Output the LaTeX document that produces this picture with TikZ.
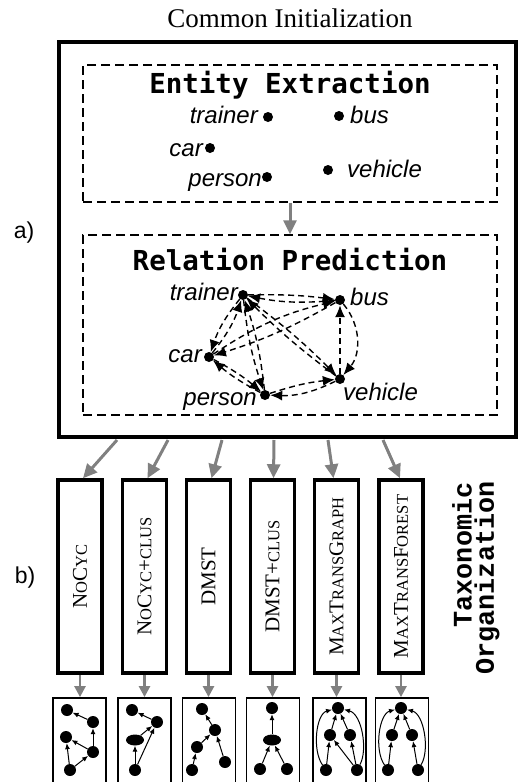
\documentclass[tikz,border=0pt]{standalone}
\usepackage{fontspec}
\setmainfont{Liberation Serif}
\newfontfamily\lsans{Liberation Sans}
\newfontfamily\dvmono{DejaVu Sans Mono}
\newfontfamily\lmono{Liberation Mono}
\usetikzlibrary{arrows.meta,shapes.geometric}
\definecolor{arrgray}{RGB}{128,128,128}
\newcommand\fsc[1]{{\fontsize{16.5pt}{16.5pt}\selectfont #1}}
\begin{document}
\begin{tikzpicture}[x=1pt,y=-1pt,
  outerbox/.style={draw, line width=4pt, minimum width=457pt, minimum height=395pt, inner sep=0},
  dbox/.style={draw, line width=1.4pt, dash pattern=on 9pt off 5pt, minimum width=414pt, inner sep=0},
  title/.style={font=\fontsize{27.5pt}{30pt}\dvmono\bfseries, anchor=base, inner sep=0},
  ent/.style={font=\fontsize{24pt}{26pt}\lsans\itshape, inner sep=0},
  dot/.style={circle, fill=black, inner sep=0, minimum size=10pt},
  dedge/.style={-{Latex[length=12pt,width=10pt]}, line width=1.4pt, dash pattern=on 6pt off 4pt},
  garrow/.style={-{Triangle[length=14pt,width=13pt]}, line width=3pt, draw=arrgray, fill=arrgray},
  sgarrow/.style={-{Triangle[length=11pt,width=11pt]}, line width=2.5pt, draw=arrgray, fill=arrgray},
  tallbox/.style={draw, line width=3.5pt, minimum width=44pt, minimum height=193pt, inner sep=0},
  smallbox/.style={draw, line width=1.8pt, minimum width=53pt, minimum height=102pt, inner sep=0},
  algo/.style={rotate=90, font=\fontsize{21pt}{21pt}\selectfont, inner sep=0},
  tn/.style={circle, fill=black, inner sep=0, minimum size=12pt},
  tel/.style={ellipse, fill=black, inner sep=0, minimum width=18pt, minimum height=11pt},
  tedge/.style={-{Latex[length=6pt,width=5pt]}, line width=1pt},
  side/.style={font=\fontsize{23pt}{25pt}\lsans, inner sep=0},
  taxo/.style={rotate=90, font=\fontsize{26.8pt}{28pt}\lmono\bfseries, inner sep=0}
]
\useasboundingbox (0,0) rectangle (519,782);
\clip (0,0) rectangle (519,782);

% header
\node[anchor=base, inner sep=0, font=\fontsize{27pt}{30pt}\selectfont] (hdr) at (290,27) {Common Initialization};

% outer box
\node[outerbox] (outer) at (287.5,239.5) {};
\node[side] (la) at (24,233) {a)};
\node[side] (lb) at (25,578) {b)};

% Entity Extraction
\node[dbox, minimum height=137pt] (ee) at (290,133.5) {};
\node[title] (eet) at (290,93) {Entity Extraction};
\node[dot] (e1) at (268,117) {};
\node[dot] (e2) at (339,116) {};
\node[dot] (e3) at (210,148) {};
\node[dot] (e4) at (267,177) {};
\node[dot] (e5) at (328,170) {};
\node[ent, anchor=base east] (e1l) at (258,123) {trainer};
\node[ent, anchor=base west] (e2l) at (350,123) {bus};
\node[ent, anchor=base east] (e3l) at (203,156) {car};
\node[ent, anchor=base east] (e4l) at (262,186) {person};
\node[ent, anchor=base west] (e5l) at (347,177) {vehicle};

% Relation Prediction
\node[dbox, minimum height=180pt] (rp) at (290,325) {};
\node[title] (rpt) at (290,270) {Relation Prediction};
\draw[garrow] (ee.south) -- (rp.north);

\node[dot] (T) at (243,295) {};
\node[dot] (B) at (340,300) {};
\node[dot] (C) at (209,357) {};
\node[dot] (P) at (265,395) {};
\node[dot] (V) at (340,379) {};
\node[ent, anchor=base east] (Tl) at (238,300) {trainer};
\node[ent, anchor=base west] (Bl) at (350,305) {bus};
\node[ent, anchor=base east] (Cl) at (202,362) {car};
\node[ent, anchor=base east] (Pl) at (257,405) {person};
\node[ent, anchor=base west] (Vl) at (343,400) {vehicle};

\draw[dedge] (T) to[bend left=4] (B);
\draw[dedge] (B) to[bend left=8] (T);
\draw[dedge] (T) to[bend right=10] (C);
\draw[dedge] (C) to[bend right=10] (T);
\draw[dedge] (T) to[bend right=6] (P);
\draw[dedge] (P) to[bend right=6] (T);
\draw[dedge] (T) to[bend left=4] (V);
\draw[dedge] (V) to[bend left=4] (T);
\draw[dedge] (B) to[bend left=6] (C);
\draw[dedge] (C) to[bend left=10] (B);
\draw[dedge] (C) to[bend left=6] (P);
\draw[dedge] (P) to[bend left=6] (C);
\draw[dedge] (P) to[bend left=6] (V);
\draw[dedge] (V) to[bend left=14] (P);
\draw[dedge] (V) -- (B);
\draw[dedge] (B) to[bend left=40] (V);

% tall boxes
\node[tallbox] (tb1) at (80,576.5) {};
\node[tallbox] (tb2) at (144.5,576.5) {};
\node[tallbox] (tb3) at (208.5,576.5) {};
\node[tallbox] (tb4) at (272.5,576.5) {};
\node[tallbox] (tb5) at (336.5,576.5) {};
\node[tallbox] (tb6) at (401,576.5) {};
\node[algo] (al1) at (tb1.center) {N\fsc{O}C\fsc{YC}};
\node[algo] (al2) at (tb2.center) {N\fsc{O}C\fsc{YC}+\fsc{CLUS}};
\node[algo] (al3) at (tb3.center) {DMST};
\node[algo] (al4) at (tb4.center) {DMST+\fsc{CLUS}};
\node[algo] (al5) at (tb5.center) {M\fsc{AX}T\fsc{RANS}G\fsc{RAPH}};
\node[algo] (al6) at (tb6.center) {M\fsc{AX}T\fsc{RANS}F\fsc{OREST}};

\coordinate (s1) at (117,440);
\coordinate (s2) at (168,440);
\coordinate (s3) at (222,440);
\coordinate (s4) at (274,440);
\coordinate (s5) at (328,440);
\coordinate (s6) at (383,440);
\draw[garrow] (s1) -- ([xshift=3pt]tb1.north);
\draw[garrow] (s2) -- ([xshift=3pt]tb2.north);
\draw[garrow] (s3) -- ([xshift=3pt]tb3.north);
\draw[garrow] (s4) -- ([xshift=1pt]tb4.north);
\draw[garrow] (s5) -- ([xshift=-3pt]tb5.north);
\draw[garrow] (s6) -- ([xshift=-1pt]tb6.north);

\node[taxo] (tx1) at (462,555) {Taxonomic};
\node[taxo] (tx2) at (487,578) {Organization};

% small boxes
\node[smallbox] (sb1) at (79.5,749) {};
\node[smallbox] (sb2) at (144.5,749) {};
\node[smallbox] (sb3) at (209,749) {};
\node[smallbox] (sb4) at (273,749) {};
\node[smallbox] (sb5) at (339.5,749) {};
\node[smallbox] (sb6) at (402,749) {};
\draw[sgarrow] (tb1.south) -- (tb1.south |- sb1.north);
\draw[sgarrow] (tb2.south) -- (tb2.south |- sb2.north);
\draw[sgarrow] (tb3.south) -- (tb3.south |- sb3.north);
\draw[sgarrow] (tb4.south) -- (tb4.south |- sb4.north);
\draw[sgarrow] (tb5.south) -- (tb5.south |- sb5.north);
\draw[sgarrow] (tb6.south) -- (tb6.south |- sb6.north);

% graph 1
\node[tn] (g1a) at (67,710) {};
\node[tn] (g1b) at (93,722) {};
\node[tn] (g1c) at (66,737) {};
\node[tn] (g1d) at (93,752) {};
\node[tn] (g1e) at (70,770) {};
\draw[tedge] (g1b) -- (g1a);
\draw[tedge] (g1d) -- (g1b);
\draw[tedge] (g1d) -- (g1c);
\draw[tedge] (g1e) -- (g1c);
\draw[tedge] (g1e) -- (g1d);

% graph 2
\node[tn] (g2a) at (132,710) {};
\node[tn] (g2b) at (157,722) {};
\node[tel] (g2c) at (135,740) {};
\node[tn] (g2e) at (135,770) {};
\draw[tedge] (g2b) -- (g2a);
\draw[tedge] (g2c) -- (g2b);
\draw[tedge] (g2e) -- (g2c);
\draw[tedge] (g2e) -- (g2b);

% graph 3
\node[tn] (g3a) at (202,709) {};
\node[tn] (g3b) at (215,730) {};
\node[tn] (g3c) at (197,747) {};
\node[tn] (g3d) at (225,762) {};
\node[tn] (g3e) at (192,770) {};
\draw[tedge] (g3b) -- (g3a);
\draw[tedge] (g3c) -- (g3b);
\draw[tedge] (g3e) -- (g3c);
\draw[tedge] (g3d) -- (g3b);

% graph 4
\node[tn] (g4a) at (272,708) {};
\node[tel] (g4b) at (272,740) {};
\node[tn] (g4c) at (260,769) {};
\node[tn] (g4d) at (287,769) {};
\draw[tedge] (g4b) -- (g4a);
\draw[tedge] (g4c) -- (g4b);
\draw[tedge] (g4d) -- (g4b);

% graph 5
\node[tn] (g5t) at (338,708) {};
\node[tn] (g5l) at (330,735) {};
\node[tn] (g5r) at (350,735) {};
\node[tn] (g5bl) at (326,770) {};
\node[tn] (g5br) at (357,770) {};
\draw[tedge] (g5l) -- (g5t);
\draw[tedge] (g5r) -- (g5t);
\draw[tedge] (g5bl) -- (g5l);
\draw[tedge] (g5br) -- (g5r);
\draw[tedge] (g5br) -- (g5l);
\draw[tedge] (g5bl) .. controls (312,750) and (316,714) .. (g5t);
\draw[tedge] (g5br) .. controls (368,750) and (362,714) .. (g5t);

% graph 6
\node[tn] (g6t) at (401,708) {};
\node[tn] (g6l) at (392,735) {};
\node[tn] (g6r) at (412,735) {};
\node[tn] (g6bl) at (388,770) {};
\node[tn] (g6br) at (418,770) {};
\draw[tedge] (g6l) -- (g6t);
\draw[tedge] (g6r) -- (g6t);
\draw[tedge] (g6bl) -- (g6l);
\draw[tedge] (g6br) -- (g6r);
\draw[tedge] (g6bl) .. controls (374,750) and (379,714) .. (g6t);
\draw[tedge] (g6br) .. controls (430,750) and (424,714) .. (g6t);
\end{tikzpicture}
\end{document}
